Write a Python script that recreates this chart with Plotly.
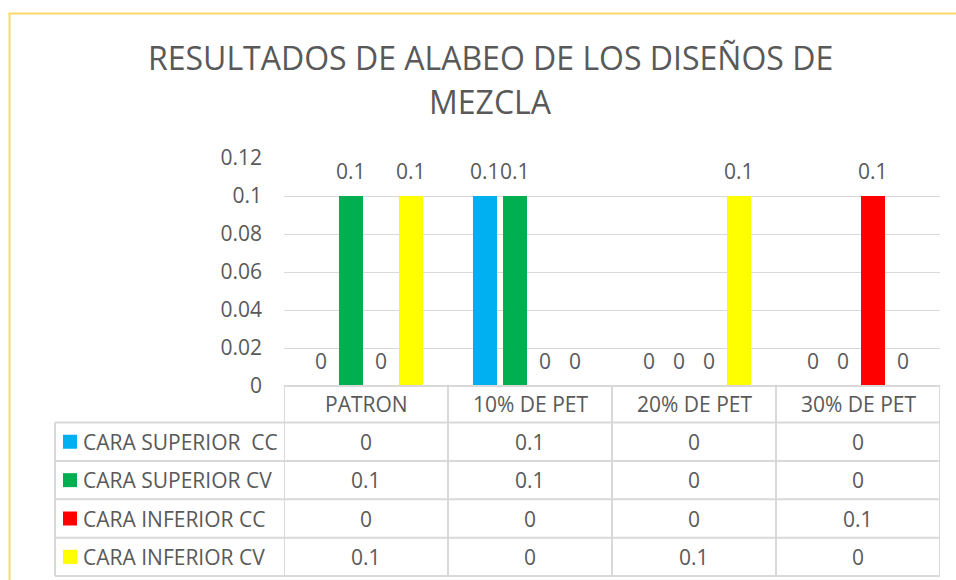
import plotly.graph_objects as go

# ---------------- data ----------------
categories = ["PATRON", "10% DE PET", "20% DE PET", "30% DE PET"]
series_names = ["CARA SUPERIOR\u00a0 CC", "CARA SUPERIOR CV", "CARA INFERIOR CC", "CARA INFERIOR CV"]
cara_superior_cc = [0, 0.1, 0, 0]
cara_superior_cv = [0.1, 0.1, 0, 0]
cara_inferior_cc = [0, 0, 0, 0.1]
cara_inferior_cv = [0.1, 0, 0.1, 0]
series_values = [cara_superior_cc, cara_superior_cv, cara_inferior_cc, cara_inferior_cv]
series_colors = ["#00B0F0", "#00B050", "#FF0000", "#FFFF00"]
title_lines = ["RESULTADOS DE ALABEO DE LOS DISEÑOS DE", "MEZCLA"]

# ---------------- layout geometry (pixels) ----------------
W, H = 956, 580
L, R, T, B = 284, 16, 158, 194
PW = W - L - R
PH = H - T - B
FONT = "Open Sans"
FS = 21
TXT = "#595959"
GRID = "#D9D9D9"
BARGAP = 0.268
BARGROUPGAP = 0.2


def px_x(px):
    return (px - L) / PW


def px_y(py):
    return (H - B - py) / PH


fig = go.Figure()
for name, vals, col in zip(series_names, series_values, series_colors):
    fig.add_trace(go.Bar(x=categories, y=vals, name=name, marker=dict(color=col, line=dict(width=0))))

annotations = []
shapes = []

# title
annotations.append(dict(text=title_lines[0], xref="paper", yref="paper", x=px_x(490), y=px_y(57),
                        xanchor="center", yanchor="middle", showarrow=False,
                        font=dict(family=FONT, size=32, color=TXT)))
annotations.append(dict(text=title_lines[1], xref="paper", yref="paper", x=px_x(490), y=px_y(102),
                        xanchor="center", yanchor="middle", showarrow=False,
                        font=dict(family=FONT, size=32, color=TXT)))

# data labels
group_px = PW / len(categories)
slot = group_px * (1 - BARGAP) / len(series_values)
for i, vals in enumerate(series_values):
    for c, v in zip(categories, vals):
        annotations.append(dict(text=f"{v:g}", x=c, y=v, xref="x", yref="y",
                                xshift=(i - (len(series_values) - 1) / 2) * slot, yshift=9,
                                xanchor="center", yanchor="bottom", showarrow=False,
                                font=dict(family=FONT, size=FS, color=TXT)))

# data table
row_edges = [386, 422.5, 461, 499.3, 537.7, 576]
table_left = 55
# header row: category names
for c in categories:
    annotations.append(dict(text=c, x=c, xref="x", yref="paper",
                            y=px_y((row_edges[0] + row_edges[1]) / 2),
                            xanchor="center", yanchor="middle", showarrow=False,
                            font=dict(family=FONT, size=FS, color=TXT)))
for r, (name, vals, col) in enumerate(zip(series_names, series_values, series_colors)):
    top, bot = row_edges[r + 1], row_edges[r + 2]
    mid = (top + bot) / 2
    shapes.append(dict(type="rect", xref="paper", yref="paper",
                       x0=px_x(63), x1=px_x(77), y0=px_y(mid - 7), y1=px_y(mid + 7),
                       fillcolor=col, line=dict(width=0)))
    annotations.append(dict(text=name, xref="paper", yref="paper", x=px_x(81), y=px_y(mid),
                            xanchor="left", yanchor="middle", showarrow=False,
                            font=dict(family=FONT, size=FS, color=TXT)))
    for c, v in zip(categories, vals):
        annotations.append(dict(text=f"{v:g}", x=c, xref="x", yref="paper", y=px_y(mid),
                                xanchor="center", yanchor="middle", showarrow=False,
                                font=dict(family=FONT, size=FS, color=TXT)))

# table grid lines
line_style = dict(color=GRID, width=2)
shapes.append(dict(type="line", xref="paper", yref="paper", x0=0, x1=1,
                   y0=px_y(row_edges[0]), y1=px_y(row_edges[0]), line=line_style))
for e in row_edges[1:]:
    shapes.append(dict(type="line", xref="paper", yref="paper", x0=px_x(table_left), x1=1,
                       y0=px_y(e), y1=px_y(e), line=line_style))
for k in range(len(categories) + 1):
    shapes.append(dict(type="line", xref="x", yref="paper", x0=k - 0.5, x1=k - 0.5,
                       y0=px_y(row_edges[0]), y1=px_y(row_edges[-1]), line=line_style))
shapes.append(dict(type="line", xref="paper", yref="paper", x0=px_x(table_left), x1=px_x(table_left),
                   y0=px_y(row_edges[1]), y1=px_y(row_edges[-1]), line=line_style))

# chart border (gold)
shapes.append(dict(type="rect", xref="paper", yref="paper",
                   x0=px_x(9.5), x1=px_x(W + 20), y0=px_y(H + 20), y1=px_y(13.5),
                   line=dict(color="#FFD966", width=2), fillcolor="rgba(0,0,0,0)", layer="below"))

fig.update_layout(
    width=W, height=H,
    margin=dict(l=L, r=R, t=T, b=B, pad=0),
    paper_bgcolor="white", plot_bgcolor="white",
    barmode="group", bargap=BARGAP, bargroupgap=BARGROUPGAP,
    showlegend=False,
    font=dict(family=FONT, size=FS, color=TXT),
    xaxis=dict(showticklabels=False, showgrid=False, zeroline=False, showline=False,
               range=[-0.5, len(categories) - 0.5], fixedrange=True),
    yaxis=dict(range=[0, 0.12], dtick=0.02, showgrid=True, gridcolor=GRID, gridwidth=1,
               zeroline=False, showline=False, ticks="", ticklabelstandoff=21,
               tickfont=dict(family=FONT, size=FS, color=TXT), fixedrange=True),
    annotations=annotations,
    shapes=shapes,
)

fig.write_html("out.html", config={"displayModeBar": False},
               post_script="document.body.style.margin='0';document.body.style.overflow='hidden';")
